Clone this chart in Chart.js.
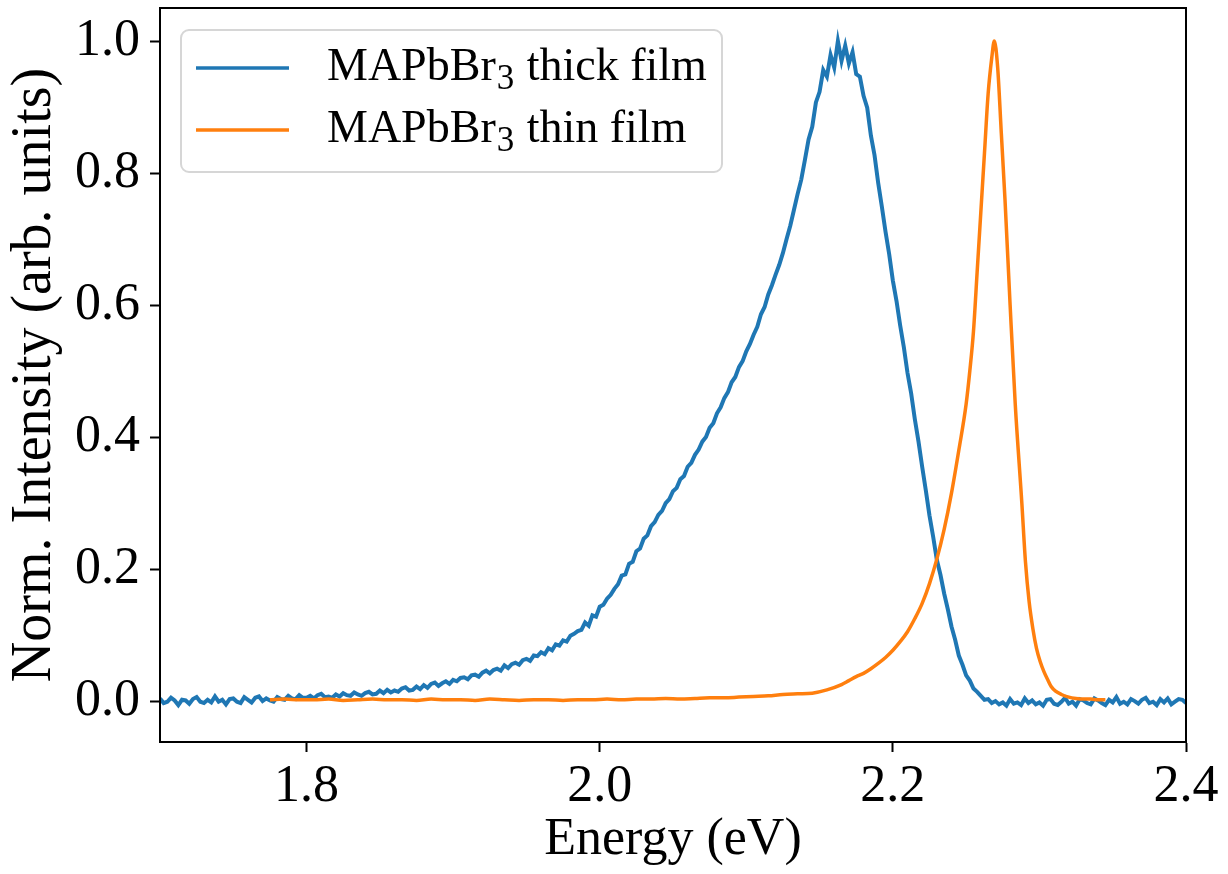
<!DOCTYPE html>
<html><head><meta charset="utf-8">
<script src="https://cdn.jsdelivr.net/npm/chart.js@4.4.1/dist/chart.umd.min.js"></script>
<style>html,body{margin:0;padding:0;background:#fff;} canvas{display:block;}</style>
</head><body>
<canvas id="c" width="1228" height="874"></canvas>
<script>
// ---------- data ----------
const thickEnergy = [
1.7000,1.7025,1.7050,1.7075,1.7100,1.7125,1.7150,1.7175,
1.7200,1.7225,1.7250,1.7275,1.7300,1.7325,1.7350,1.7375,
1.7400,1.7425,1.7450,1.7475,1.7500,1.7525,1.7550,1.7575,
1.7600,1.7625,1.7650,1.7675,1.7700,1.7725,1.7750,1.7775,
1.7800,1.7825,1.7850,1.7875,1.7900,1.7925,1.7950,1.7975,
1.8000,1.8025,1.8050,1.8075,1.8100,1.8125,1.8150,1.8175,
1.8200,1.8225,1.8250,1.8275,1.8300,1.8325,1.8350,1.8375,
1.8400,1.8425,1.8450,1.8475,1.8500,1.8525,1.8550,1.8575,
1.8600,1.8625,1.8650,1.8675,1.8700,1.8725,1.8750,1.8775,
1.8800,1.8825,1.8850,1.8875,1.8900,1.8925,1.8950,1.8975,
1.9000,1.9025,1.9050,1.9075,1.9100,1.9125,1.9150,1.9175,
1.9200,1.9225,1.9250,1.9275,1.9300,1.9325,1.9350,1.9375,
1.9400,1.9425,1.9450,1.9475,1.9500,1.9525,1.9550,1.9575,
1.9600,1.9625,1.9650,1.9675,1.9700,1.9725,1.9750,1.9775,
1.9800,1.9825,1.9850,1.9875,1.9900,1.9925,1.9950,1.9975,
2.0000,2.0025,2.0050,2.0075,2.0100,2.0125,2.0150,2.0175,
2.0200,2.0225,2.0250,2.0275,2.0300,2.0325,2.0350,2.0375,
2.0400,2.0425,2.0450,2.0475,2.0500,2.0525,2.0550,2.0575,
2.0600,2.0625,2.0650,2.0675,2.0700,2.0725,2.0750,2.0775,
2.0800,2.0825,2.0850,2.0875,2.0900,2.0925,2.0950,2.0975,
2.1000,2.1025,2.1050,2.1075,2.1100,2.1125,2.1150,2.1175,
2.1200,2.1225,2.1250,2.1275,2.1300,2.1325,2.1350,2.1375,
2.1400,2.1425,2.1450,2.1475,2.1500,2.1525,2.1550,2.1575,
2.1600,2.1625,2.1650,2.1675,2.1700,2.1725,2.1750,2.1775,
2.1800,2.1825,2.1850,2.1875,2.1900,2.1925,2.1950,2.1975,
2.2000,2.2025,2.2050,2.2075,2.2100,2.2125,2.2150,2.2175,
2.2200,2.2225,2.2250,2.2275,2.2300,2.2325,2.2350,2.2375,
2.2400,2.2425,2.2450,2.2475,2.2500,2.2525,2.2550,2.2575,
2.2600,2.2625,2.2650,2.2675,2.2700,2.2725,2.2750,2.2775,
2.2800,2.2825,2.2850,2.2875,2.2900,2.2925,2.2950,2.2975,
2.3000,2.3025,2.3050,2.3075,2.3100,2.3125,2.3150,2.3175,
2.3200,2.3225,2.3250,2.3275,2.3300,2.3325,2.3350,2.3375,
2.3400,2.3425,2.3450,2.3475,2.3500,2.3525,2.3550,2.3575,
2.3600,2.3625,2.3650,2.3675,2.3700,2.3725,2.3750,2.3775,
2.3800,2.3825,2.3850,2.3875,2.3900,2.3925,2.3950,2.3975,
2.4000
];
const thickIntensity = [
0.004,-0.003,-0.001,0.005,0.001,-0.006,0.002,0.001,
-0.004,0.003,0.006,-0.001,-0.003,0.002,-0.002,0.007,
-0.001,0.002,-0.005,0.003,0.004,-0.001,-0.003,0.006,
0.002,-0.002,0.005,0.007,0.000,0.004,0.001,-0.001,
0.006,0.003,0.002,0.008,0.004,0.003,0.009,0.005,
0.005,0.008,0.004,0.009,0.011,0.006,0.007,0.005,
0.010,0.007,0.012,0.009,0.008,0.013,0.010,0.008,
0.012,0.014,0.010,0.011,0.016,0.012,0.017,0.013,
0.016,0.014,0.019,0.021,0.016,0.017,0.022,0.018,
0.024,0.020,0.026,0.028,0.023,0.027,0.030,0.026,
0.032,0.030,0.035,0.036,0.033,0.039,0.040,0.037,
0.043,0.046,0.042,0.047,0.049,0.046,0.054,0.050,
0.056,0.058,0.055,0.062,0.064,0.061,0.069,0.068,
0.074,0.071,0.080,0.077,0.086,0.084,0.092,0.090,
0.099,0.102,0.106,0.108,0.119,0.114,0.130,0.128,
0.143,0.146,0.155,0.161,0.170,0.177,0.190,0.192,
0.208,0.211,0.227,0.231,0.246,0.251,0.265,0.271,
0.282,0.288,0.300,0.306,0.318,0.323,0.336,0.341,
0.355,0.361,0.373,0.381,0.393,0.400,0.414,0.421,
0.436,0.445,0.459,0.468,0.483,0.491,0.506,0.515,
0.530,0.541,0.555,0.567,0.586,0.597,0.616,0.630,
0.646,0.661,0.679,0.700,0.720,0.744,0.768,0.790,
0.820,0.851,0.870,0.907,0.923,0.956,0.946,0.979,
0.960,1.000,0.970,0.993,0.966,0.983,0.950,0.946,
0.917,0.899,0.857,0.827,0.785,0.749,0.711,0.677,
0.637,0.606,0.569,0.536,0.497,0.466,0.427,0.393,
0.355,0.319,0.281,0.249,0.214,0.191,0.163,0.139,
0.113,0.093,0.069,0.055,0.039,0.031,0.019,0.014,
0.008,0.002,0.003,-0.003,0.000,-0.005,-0.002,-0.007,
0.003,-0.004,-0.002,-0.006,0.004,-0.003,0.001,-0.005,
-0.002,-0.007,0.002,0.003,-0.004,-0.006,-0.001,0.005,
-0.004,-0.001,-0.007,0.003,0.001,-0.003,-0.005,0.004,
0.001,-0.003,-0.006,0.002,-0.002,0.006,-0.004,-0.001,
-0.005,0.003,0.000,-0.004,0.002,0.005,-0.003,-0.001,
-0.006,0.003,-0.002,0.004,-0.005,-0.001,0.003,0.002,
-0.003
];
const thinEnergy = [
1.775,1.785,1.795,1.805,1.815,1.825,1.835,1.845,1.855,1.865,
1.875,1.885,1.895,1.905,1.915,1.925,1.935,1.945,1.955,1.965,
1.975,1.985,1.995,2.005,2.015,2.025,2.035,2.045,2.055,2.065,
2.075,2.085,2.095,2.105,2.115,2.125,2.135,2.145,2.155,2.165,
2.170,2.175,2.180,2.185,2.190,2.195,2.200,2.205,2.210,2.215,
2.220,2.225,2.230,2.235,2.240,2.245,2.250,
2.2525,2.255,2.2575,2.260,2.2625,2.265,2.2675,2.2692,
2.2715,2.274,2.2765,2.280,2.2835,2.288,2.2905,2.293,2.2955,2.298,
2.3005,2.303,2.3055,2.308,2.311,2.315,2.320,2.325,2.330,2.335,2.340,2.345
];
const thinIntensity = [
0.002,0.003,0.002,0.002,0.003,0.001,0.002,0.003,0.002,0.002,
0.001,0.003,0.002,0.002,0.001,0.003,0.002,0.001,0.002,0.002,
0.001,0.002,0.002,0.003,0.002,0.003,0.003,0.004,0.003,0.004,
0.005,0.005,0.006,0.007,0.008,0.010,0.011,0.012,0.017,0.025,
0.031,0.037,0.042,0.049,0.057,0.066,0.077,0.090,0.105,0.125,
0.148,0.178,0.215,0.260,0.315,0.380,0.450,
0.500,0.560,0.650,0.740,0.830,0.920,0.975,1.000,
0.960,0.860,0.760,0.600,0.450,0.300,0.210,0.150,0.110,0.080,
0.060,0.045,0.033,0.022,0.015,0.010,0.006,0.004,0.003,0.003,0.002,0.002
];
const seriesNames = ['MAPbBr\u2083 thick film', 'MAPbBr\u2083 thin film'];
const seriesColors = ['#1f77b4', '#ff7f0e'];
const xTicks = [1.8, 2.0, 2.2, 2.4];
const yTicks = [0.0, 0.2, 0.4, 0.6, 0.8, 1.0];
const xRange = [1.7, 2.4];
const yRange = [-0.062, 1.05];
const xTitle = 'Energy (eV)';
const yTitle = 'Norm. Intensity (arb. units)';

// ---------- rendering ----------
const FONT = "'Liberation Serif', 'Times New Roman', serif";

const framePlugin = {
  id: 'frame',
  afterDatasetsDraw(chart) {
    const {ctx, chartArea: a} = chart;
    ctx.save();
    ctx.strokeStyle = '#000';
    ctx.lineWidth = 2;
    ctx.strokeRect(a.left, a.top, a.right - a.left, a.bottom - a.top);
    ctx.restore();
  }
};

const legendPlugin = {
  id: 'mplLegend',
  afterDraw(chart) {
    const ctx = chart.ctx;
    const a = chart.chartArea;
    const bx = a.left + 21, by = a.top + 22, bw = 541, bh = 142, r = 8;
    ctx.save();
    ctx.fillStyle = 'rgba(255,255,255,0.8)';
    ctx.strokeStyle = '#d6d6d6';
    ctx.lineWidth = 2;
    ctx.beginPath();
    ctx.roundRect(bx, by, bw, bh, r);
    ctx.fill();
    ctx.stroke();
    const rows = [by + 38, by + 100];
    const size = 46;
    chart.data.datasets.forEach((ds, i) => {
      const y = rows[i];
      ctx.strokeStyle = ds.borderColor;
      ctx.lineWidth = 3.5;
      ctx.beginPath();
      ctx.moveTo(bx + 15, y);
      ctx.lineTo(bx + 108, y);
      ctx.stroke();
      ctx.fillStyle = '#000';
      ctx.textBaseline = 'middle';
      ctx.textAlign = 'left';
      const parts = ds.label.split('\u2083');
      let x = bx + 146;
      ctx.font = size + 'px ' + FONT;
      ctx.fillText(parts[0], x, y);
      x += ctx.measureText(parts[0]).width;
      ctx.font = Math.round(size * 0.75) + 'px ' + FONT;
      ctx.fillText('3', x + 1, y + 12);
      x += ctx.measureText('3').width + 2;
      ctx.font = size + 'px ' + FONT;
      ctx.fillText(parts[1] || '', x, y);
    });
    ctx.restore();
  }
};

const toPoints = (xs, ys) => xs.map((x, i) => ({x: x, y: ys[i]}));

const tickFont = {family: FONT, size: 52};
const xTitleFont = {family: FONT, size: 52};
const yTitleFont = {family: FONT, size: 56};

new Chart(document.getElementById('c'), {
  type: 'scatter',
  data: {
    datasets: [
      {label: seriesNames[0], data: toPoints(thickEnergy, thickIntensity),
       showLine: true, borderColor: seriesColors[0], backgroundColor: seriesColors[0],
       borderWidth: 4, pointRadius: 0, tension: 0, order: 1},
      {label: seriesNames[1], data: toPoints(thinEnergy, thinIntensity),
       showLine: true, borderColor: seriesColors[1], backgroundColor: seriesColors[1],
       borderWidth: 3.5, pointRadius: 0, cubicInterpolationMode: 'monotone', order: 0}
    ]
  },
  options: {
    responsive: false,
    animation: false,
    events: [],
    layout: {padding: {top: 8, right: 42, left: 0, bottom: 0}},
    plugins: {legend: {display: false}, tooltip: {enabled: false}},
    scales: {
      x: {
        type: 'linear', min: xRange[0], max: xRange[1],
        afterBuildTicks: s => { s.ticks = xTicks.map(v => ({value: v})); },
        afterFit: s => { s.height = 132; s.paddingLeft = 0; s.paddingRight = 0; },
        ticks: {font: tickFont, color: '#000', padding: 4, maxRotation: 0, autoSkip: false,
                callback: v => Number(v).toFixed(1)},
        grid: {drawOnChartArea: false, drawTicks: true, tickLength: 10, tickWidth: 2, tickColor: '#000'},
        border: {display: true, color: '#000', width: 2},
        title: {display: true, text: xTitle, font: xTitleFont, color: '#000', padding: {top: 0, bottom: 2}}
      },
      y: {
        type: 'linear', min: yRange[0], max: yRange[1],
        afterBuildTicks: s => { s.ticks = yTicks.map(v => ({value: v})); },
        afterFit: s => { s.width = 160; s.paddingTop = 0; s.paddingBottom = 0; },
        ticks: {font: tickFont, color: '#000', padding: 10, autoSkip: false,
                callback: v => Number(v).toFixed(1)},
        grid: {drawOnChartArea: false, drawTicks: true, tickLength: 10, tickWidth: 2, tickColor: '#000'},
        border: {display: true, color: '#000', width: 2},
        title: {display: true, text: yTitle, font: yTitleFont, color: '#000', padding: {top: 2, bottom: 0}}
      }
    }
  },
  plugins: [framePlugin, legendPlugin]
});
</script>
</body></html>
